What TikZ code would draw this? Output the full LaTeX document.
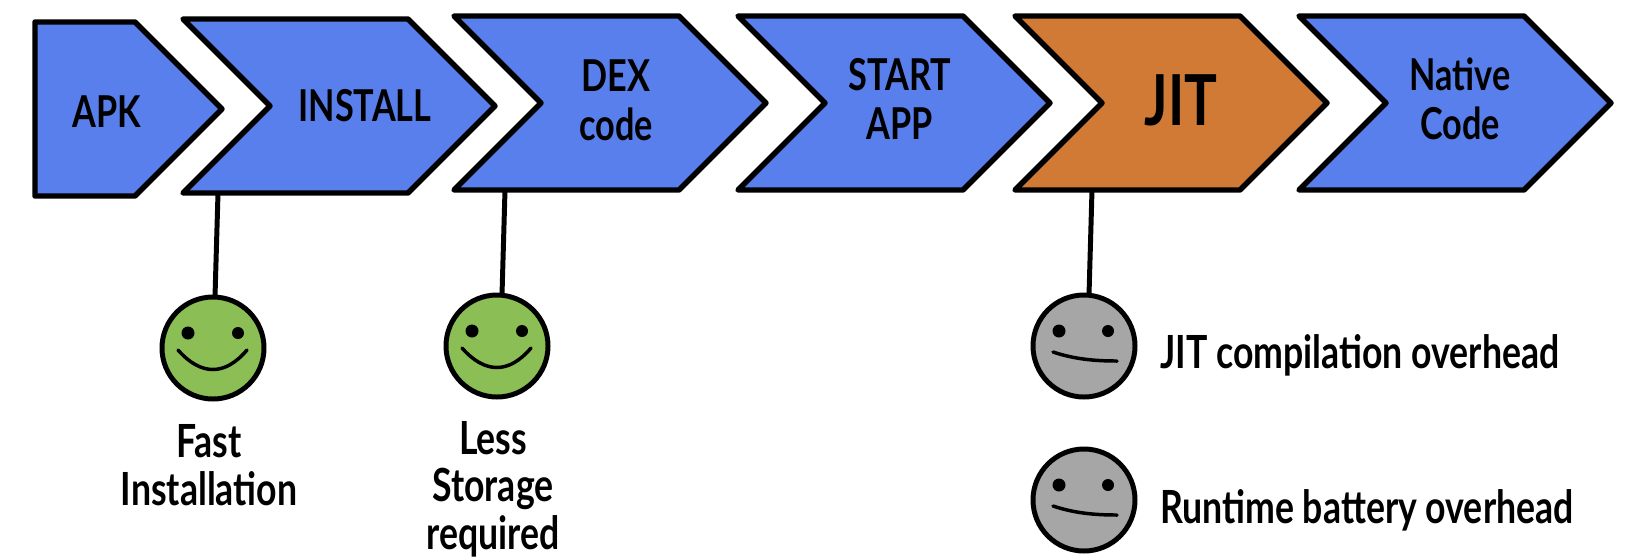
\documentclass[tikz,border=0pt]{standalone}
\usepackage{fontspec}
\setmainfont[FakeStretch=0.78]{Lato}
\usetikzlibrary{shapes.symbols}
\definecolor{stageblue}{HTML}{587FEC}
\definecolor{stageorange}{HTML}{D07A35}
\definecolor{happygreen}{HTML}{8BBE55}
\definecolor{neutralgrey}{HTML}{A6A6A6}
\tikzset{
    stage/.style={shape=signal,signal to=east,signal from=west,signal pointer angle=90,
        draw=black,line width=5.5pt*0.5669,line join=round,fill=stageblue,inner sep=0pt,outer sep=0pt,
        minimum height=174*0.02cm,minimum width=312*0.02cm},
    stagetext/.style={align=center,font=\fontsize{25}{28}\selectfont\bfseries},
    note/.style={align=center,inner sep=0pt,font=\fontsize{26}{27}\selectfont\bfseries},
    face/.style={shape=circle,draw=black,line width=5pt*0.5669,inner sep=0pt,outer sep=0pt,minimum size=102*0.02cm},
    feature/.style={line width=3.5pt*0.5669,line cap=round},
    stem/.style={line width=5pt*0.5669}
}
\begin{document}
\begin{tikzpicture}[x=0.02cm,y=-0.02cm]
    \useasboundingbox (0,0) rectangle (1626,559);
    \node[stage,signal from=nowhere,minimum width=187*0.02cm,anchor=west](apk)at(35, 109){};
    \node[stage](install)at(339, 106){};
    \node[stage](dex)at(610, 103){};
    \node[stage](start)at(894, 103){};
    \node[stage,fill=stageorange](jit)at(1171, 103){};
    \node[stage](native)at(1455, 103){};
    \node[stagetext](apktext)at(107, 112){APK};
    \node[stagetext](installtext)at(365, 106){INSTALL};
    \node[stagetext](dextext)at(616, 100){DEX\\code};
    \node[stagetext](starttext)at(900, 99){START\\APP};
    \node[stagetext,font=\fontsize{40}{44}\selectfont\bfseries](jittext)at(1181, 100){JIT};
    \node[stagetext](nativetext)at(1460, 99){Native\\Code};
    \node[face,fill=happygreen](fastface)at(213, 348){};
    \node[face,fill=happygreen](storageface)at(497, 346){};
    \node[face,fill=neutralgrey](jitface)at(1084, 346){};
    \node[face,fill=neutralgrey](batteryface)at(1084, 500){};
    \draw[stem]([xshift=5*0.02cm]fastface.north |- install.south) -- ([xshift=2*0.02cm]fastface.north);
    \draw[stem]([xshift=8*0.02cm]storageface.north |- dex.south) -- ([xshift=5*0.02cm]storageface.north);
    \draw[stem]([xshift=8*0.02cm]jitface.north |- jit.south) -- ([xshift=5*0.02cm]jitface.north);
    \foreach \f in {fastface,storageface}{
        \fill ([shift={(-25,-15)}]\f.center) circle (6.5);
        \fill ([shift={(25,-15)}]\f.center) circle (6);
        \draw[feature] ([shift={(-35,2)}]\f.center) .. controls ([shift={(-12,28)}]\f.center) and ([shift={(12,28)}]\f.center) .. ([shift={(34,2)}]\f.center);
    }
    \foreach \f in {jitface,batteryface}{
        \fill ([shift={(-25,-15)}]\f.center) circle (6.5);
        \fill ([shift={(24,-15)}]\f.center) circle (6);
        \draw[feature] ([shift={(-31,6)}]\f.center) .. controls ([shift={(-10,13)}]\f.center) and ([shift={(10,15)}]\f.center) .. ([shift={(33,15)}]\f.center);
    }
    \node[note](fasttext)at(209, 465){Fast\\Installation};
    \node[note](storagetext)at(493, 489){Less\\Storage\\required};
    \node[note,anchor=west](jitnote)at(1160, 355){JIT compilation overhead};
    \node[note,anchor=west](batterynote)at(1160, 510){Runtime battery overhead};
\end{tikzpicture}
\end{document}
